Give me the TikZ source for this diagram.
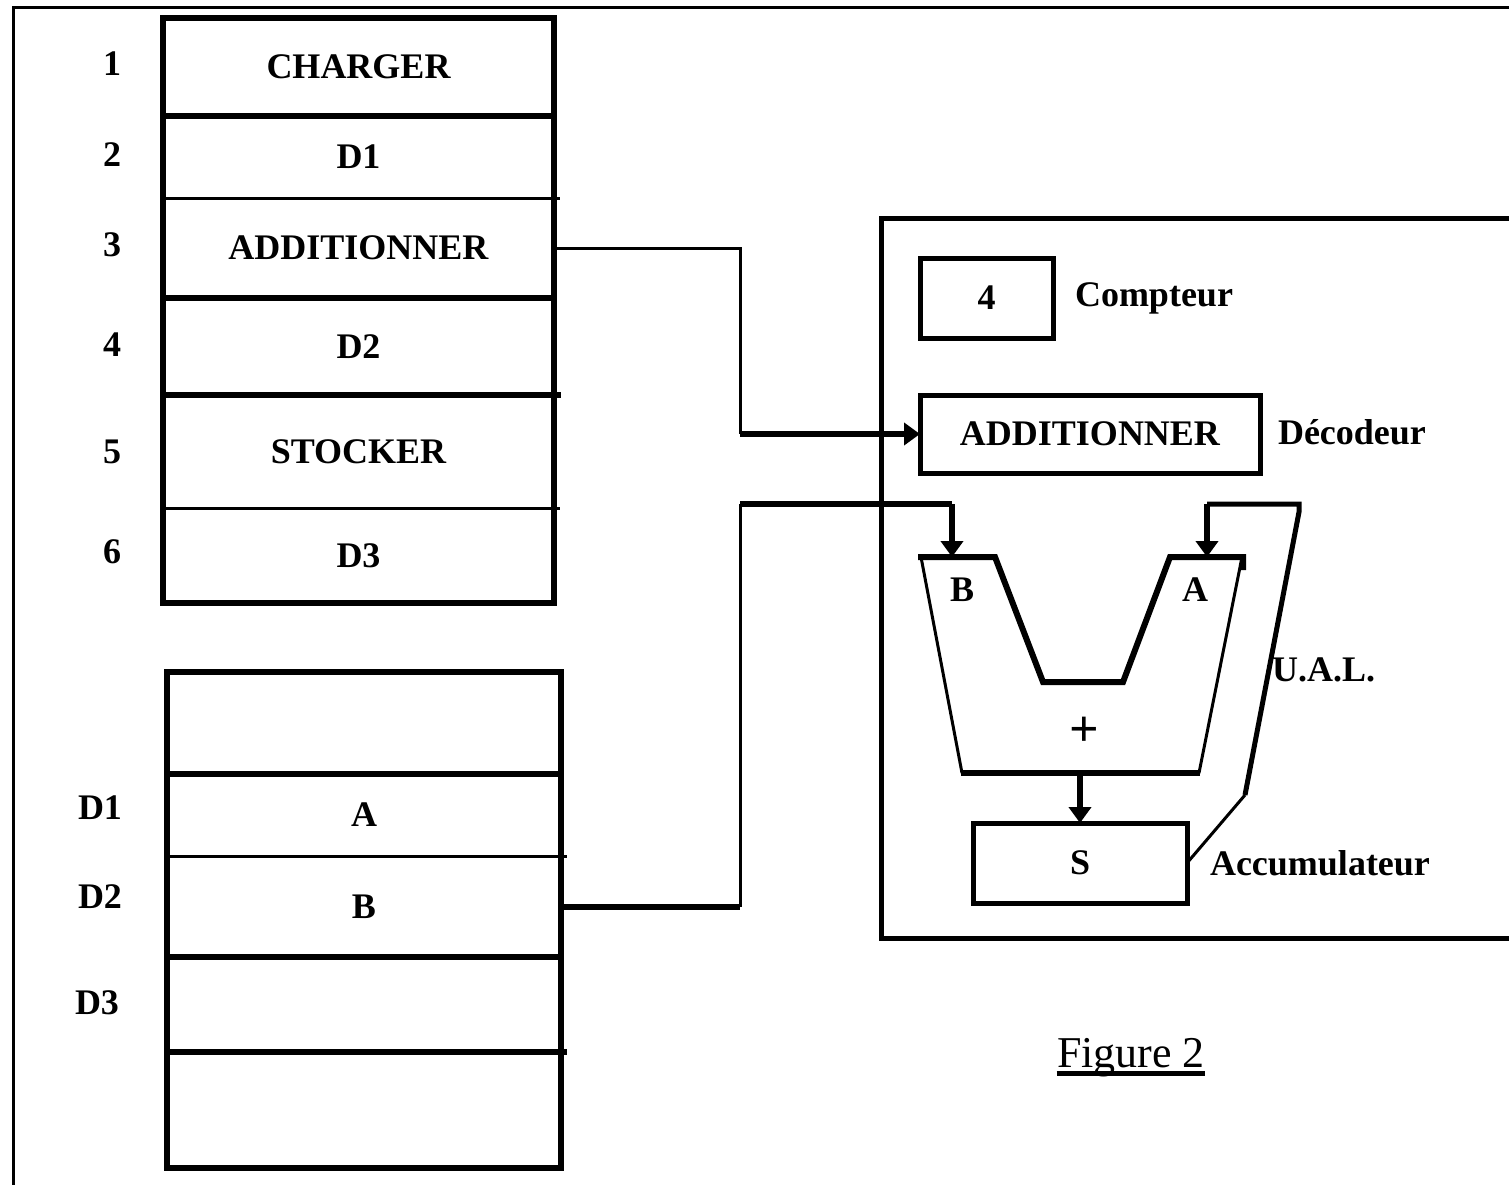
\documentclass[tikz,border=0pt]{standalone}
\usepackage{fontspec}
\setmainfont{Liberation Serif}
\usetikzlibrary{arrows.meta,calc}
\begin{document}
\begin{tikzpicture}[x=0.5pt,y=-0.5pt,
  txt/.style={font=\fontsize{18}{20}\selectfont\bfseries, inner sep=0pt, outer sep=0pt},
  cellA/.style={txt, minimum width=195.5pt},
  cellB/.style={txt, minimum width=197pt},
  thk/.style={line width=3pt},
  thn/.style={line width=1.5pt},
  boxst/.style={txt, draw, line width=2.5pt},
  arr/.style={-{Triangle[length=8pt,width=11pt]}},
  lbl/.style={txt, anchor=west}]
\clip (0,0) rectangle (1509,1184);
% outer frame
\draw[line width=1.5pt] (13,1200) -- (13,7) -- (1530,7);

% program memory
\node[cellA, minimum height=49pt]   (p1) at (358.5,67)   {CHARGER};
\node[cellA, minimum height=41pt]   (p2) at (358.5,157)  {D1};
\node[cellA, minimum height=50pt]   (p3) at (358.5,248)  {ADDITIONNER};
\node[cellA, minimum height=48.5pt] (p4) at (358.5,346.5){D2};
\node[cellA, minimum height=56.5pt] (p5) at (358.5,451.5){STOCKER};
\node[cellA, minimum height=47.5pt] (p6) at (358.5,555.5){D3};
\draw[thk] (p1.north west) rectangle (p6.south east);
\draw[thk] (p1.south west) -- (p1.south east);
\draw[thn] (p2.south west) -- ([xshift=3pt]p2.south east);
\draw[thk] (p3.south west) -- (p3.south east);
\draw[thk] (p4.south west) -- ([xshift=3.5pt]p4.south east);
\draw[thn] (p5.south west) -- ([xshift=3pt]p5.south east);
\foreach \n/\y in {1/64,2/155,3/245,4/345,5/452,6/552}
  \node[txt] (n\n) at (112,\y) {\n};

% data memory
\node[cellB, minimum height=51pt]   (d0) at (364,723)    {};
\node[cellB, minimum height=41pt]   (d1) at (364,815)    {A};
\node[cellB, minimum height=50.5pt] (d2) at (364,906.5)  {B};
\node[cellB, minimum height=47.5pt] (d3) at (364,1004.5) {};
\node[cellB, minimum height=58pt]   (d4) at (364,1110)   {};
\draw[thk] (d0.north west) rectangle (d4.south east);
\draw[thk] (d0.south west) -- (d0.south east);
\draw[thn] (d1.south west) -- ([xshift=3pt]d1.south east);
\draw[thk] (d2.south west) -- (d2.south east);
\draw[thk] (d3.south west) -- ([xshift=3pt]d3.south east);
\node[txt] (l1) at (100,808)  {D1};
\node[txt] (l2) at (100,897)  {D2};
\node[txt] (l3) at (97,1003)  {D3};

% processor
\draw[line width=2.5pt] (1530,218) -- (881,218) -- (881,938) -- (1530,938);
\node[boxst, minimum width=66.5pt, minimum height=40pt] (cmp) at (986.5,298) {4};
\node[lbl] (cmpl) at (1075,298) {Compteur};
\node[boxst, minimum width=170pt, minimum height=39pt] (dec) at (1090,434) {ADDITIONNER};
\node[lbl] (decl) at (1278,432) {Décodeur};
\node[boxst, minimum width=107pt, minimum height=40pt] (acc) at (1080,863) {S};
\node[lbl] (accl) at (1210,863) {Accumulateur};
\node[lbl] (ual) at (1272,670) {U.A.L.};

% ALU shape
\coordinate (inB) at (952,557);
\coordinate (inA) at (1207,557);
\coordinate (aluout) at (1080,773);
\draw[thn] (921,557) -- (962,773);
\draw[thn] (1242,557) -- (1199,773);
\draw[thk, line join=miter] (918,557) -- (995,557) -- (1043,682) -- (1123,682) -- (1170,557) -- (1243,557) -- (1243,570);
\draw[thk] (961,773) -- (1200,773);
\node[txt] (lb) at (962,590) {B};
\node[txt] (la) at (1195,590) {A};
\node[txt, font=\fontsize{26}{28}\selectfont\bfseries] (plus) at (1084,732) {+};

% connectors
\coordinate (j1) at (740,434);
\coordinate (j2) at (740,906.5);
\coordinate (j3) at (740,504);
\coordinate (j4) at (952,504);
\coordinate (f1) at (1245,795);
\coordinate (f2) at (1299,512);
\coordinate (f3) at (1299,504);
\coordinate (f4) at (1207,504);
\draw[thn] (p3.east) -| (j1);
\draw[thk, arr] (j1) -- (dec.west);
\draw[thk] (d2.east) -- (j2);
\draw[thn] (j2) -- (j3);
\draw[thk] (j3) -- (j4);
\draw[thk, arr] (j4) -- (inB);
\draw[thk, arr] (aluout) -- (acc.north);
\draw[line width=1.5pt] (acc.east) -- (f1);
\draw[line width=2.5pt, line join=miter] (f1) -- (f2) -- (f3) -- (f4);
\draw[thk, arr] (f4) -- (inA);

% caption
\node[inner sep=0pt, font=\fontsize{22}{24}\selectfont] (fig) at (1131,1058) {Figure 2};
\draw[line width=2.5pt] ([yshift=-3pt]fig.base west) -- ([yshift=-3pt]fig.base east);
\end{tikzpicture}
\end{document}
